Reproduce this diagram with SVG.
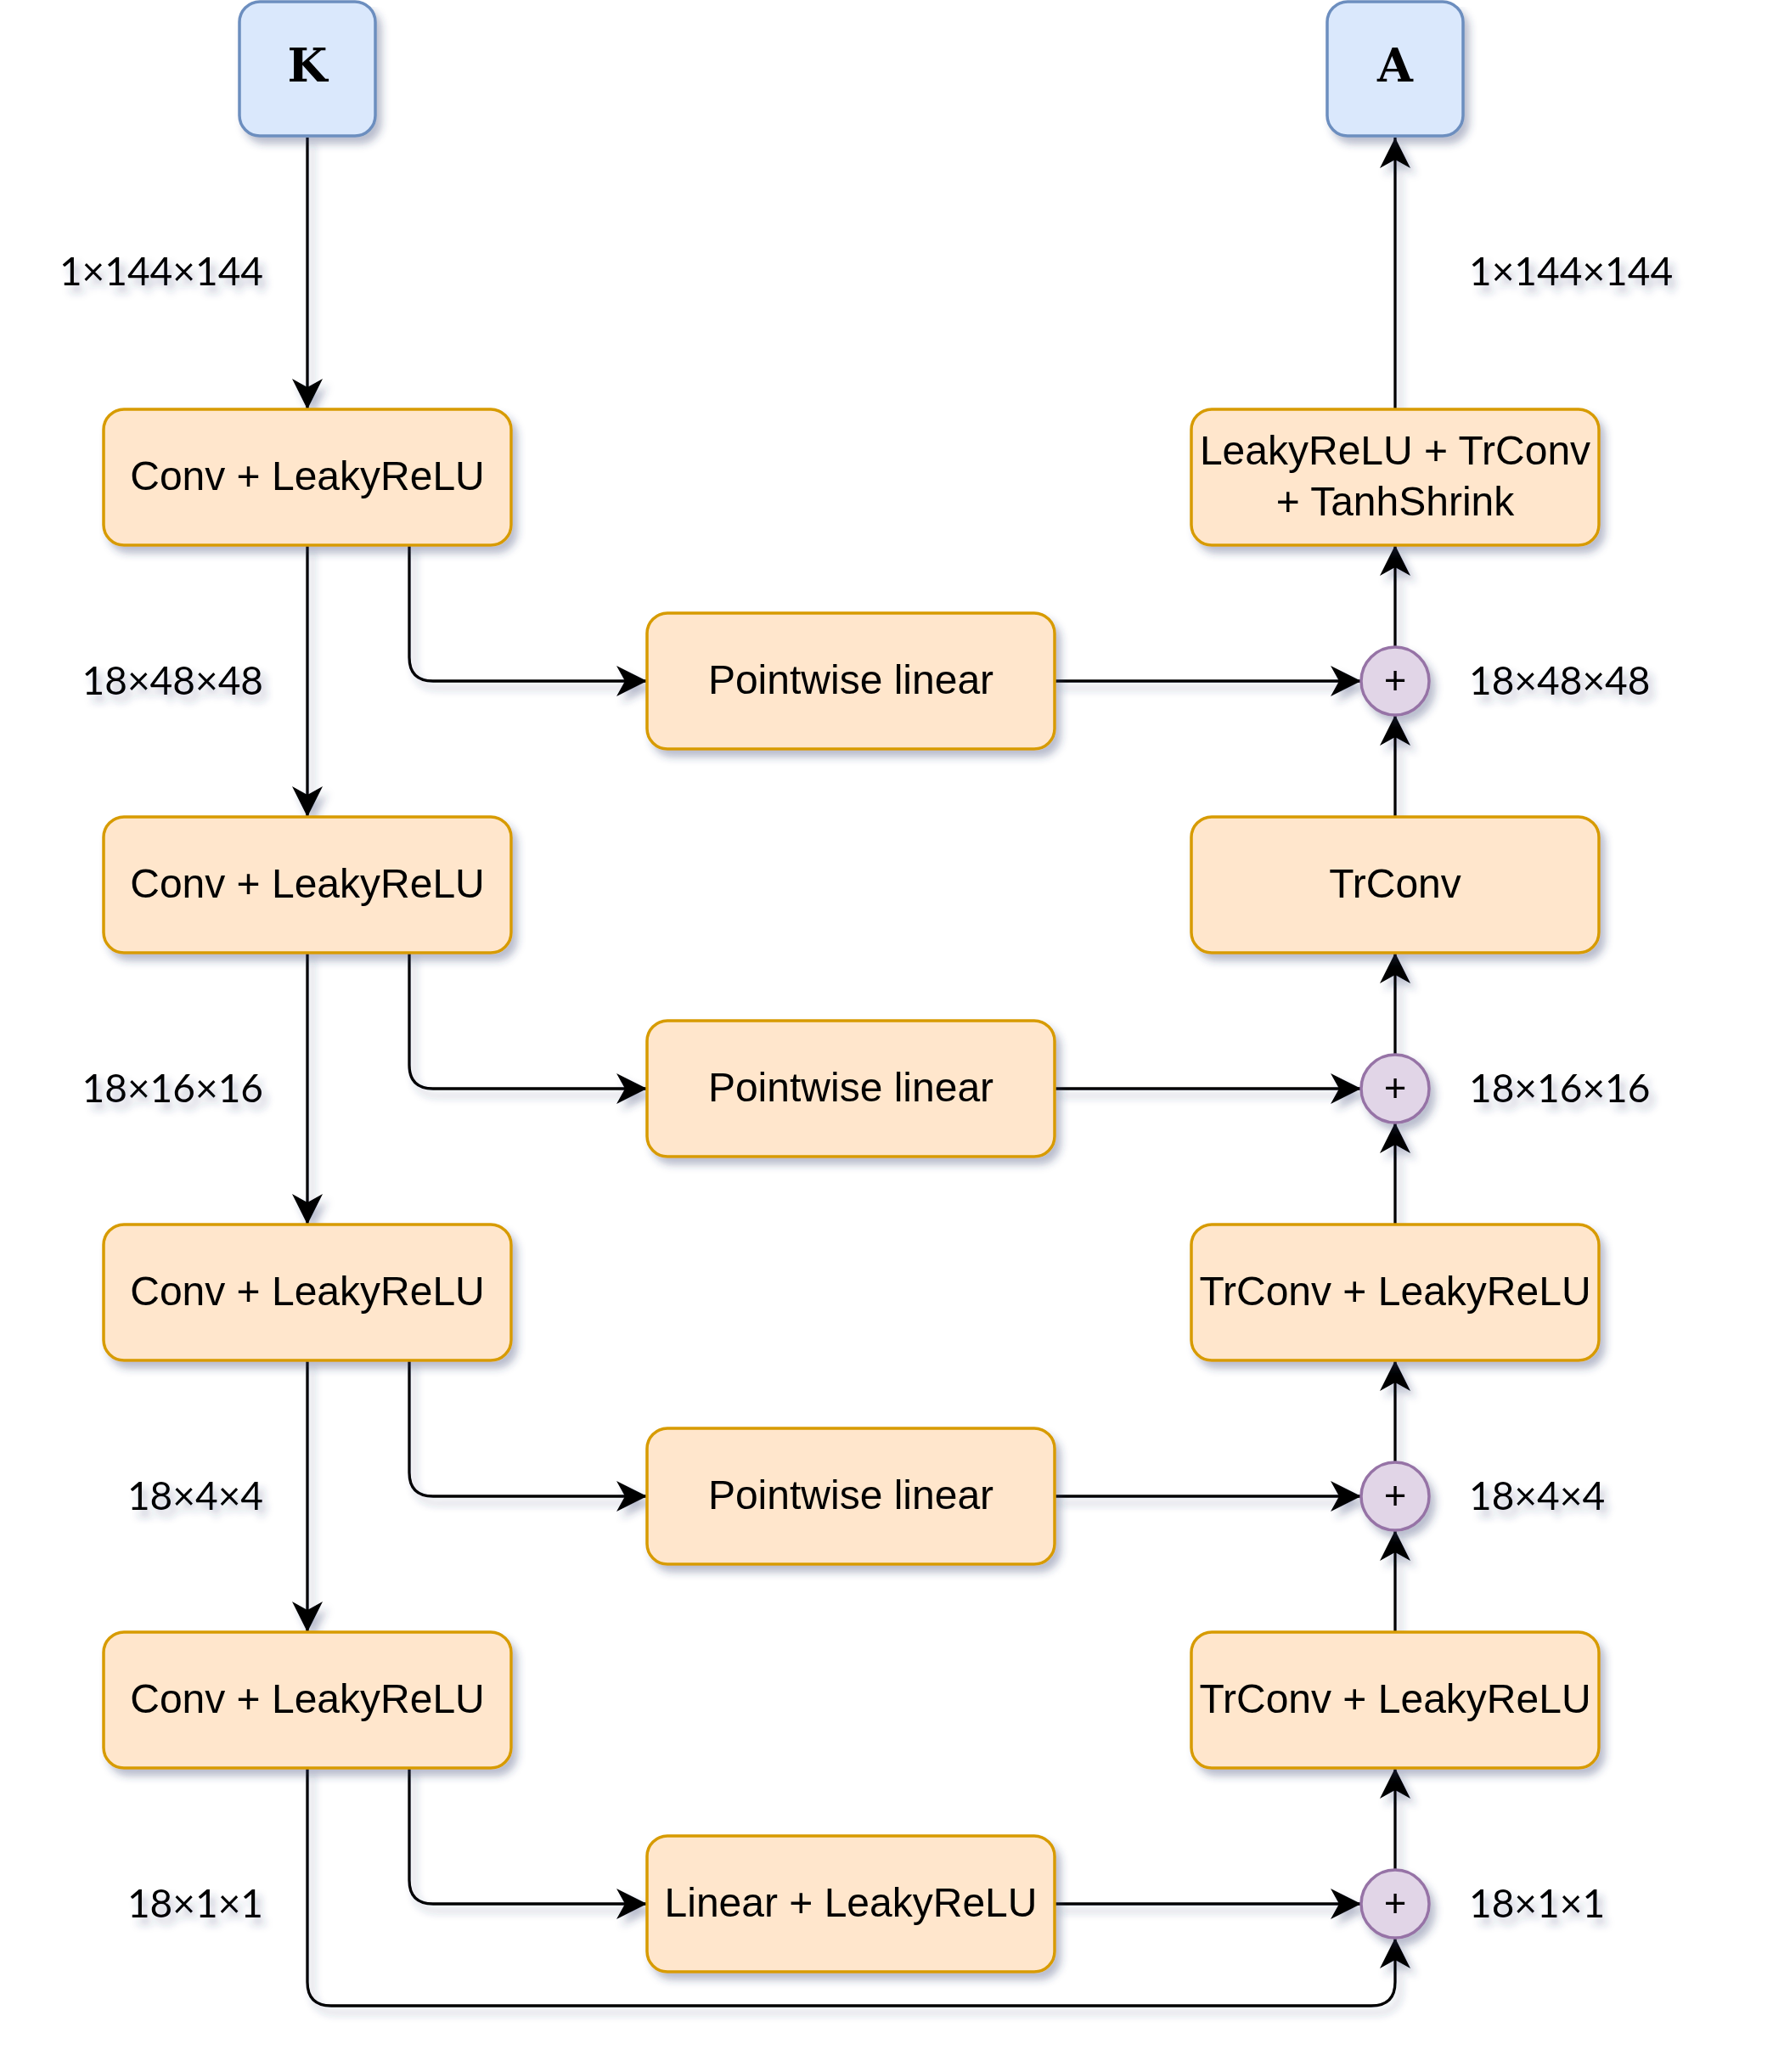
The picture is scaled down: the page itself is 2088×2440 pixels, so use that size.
<svg xmlns="http://www.w3.org/2000/svg" width="2088" height="2440" viewBox="0 0 2088 2440">
<defs>
<filter id="sh" filterUnits="userSpaceOnUse" x="0" y="0" width="2088" height="2440">
<feGaussianBlur in="SourceAlpha" stdDeviation="5"/>
<feOffset dx="6" dy="8" result="b"/>
<feFlood flood-color="#2e3b6b" flood-opacity="0.33"/>
<feComposite in2="b" operator="in"/>
<feMerge><feMergeNode/><feMergeNode in="SourceGraphic"/></feMerge>
</filter>
<marker id="arr" markerUnits="userSpaceOnUse" markerWidth="40" markerHeight="40" viewBox="-38 -20 40 40" refX="0" refY="0" orient="auto">
<path d="M0,0 L-36,-18 L-26,0 L-36,18 Z" fill="#000"/>
</marker>
</defs>
<style>
.box{fill:#ffe6cc;stroke:#d79b00;stroke-width:3.5}
.io{fill:#dae8fc;stroke:#6c8ebf;stroke-width:3.5}
.sum{fill:#e1d5e7;stroke:#9673a6;stroke-width:3.5}
.t{font-family:"Liberation Sans",Arial,sans-serif;font-size:48px;fill:#000;text-anchor:middle}
.io-t{font-family:"DejaVu Serif",serif;font-weight:bold;font-size:54px;fill:#000;text-anchor:middle}
.dim{font-family:Lato,"Open Sans",sans-serif;font-size:46px;fill:#000}
.plus{font-family:Lato,"Open Sans",sans-serif;font-size:46px;fill:#000;text-anchor:middle}
.c{fill:none;stroke:#000;stroke-width:3.3;marker-end:url(#arr)}
</style>
<rect width="2088" height="2440" fill="#fff"/>

<g id="connectors" filter="url(#sh)">
<path class="c" d="M362,162 L362,482"/>
<path class="c" d="M362,642 L362,962"/>
<path class="c" d="M362,1122 L362,1442"/>
<path class="c" d="M362,1602 L362,1922"/>
<path class="c" d="M482,642 L482,774 Q482,802 510,802 L762,802"/>
<path class="c" d="M482,1122 L482,1254 Q482,1282 510,1282 L762,1282"/>
<path class="c" d="M482,1602 L482,1734 Q482,1762 510,1762 L762,1762"/>
<path class="c" d="M482,2082 L482,2214 Q482,2242 510,2242 L762,2242"/>
<path class="c" d="M1242,802 L1603,802"/>
<path class="c" d="M1242,1282 L1603,1282"/>
<path class="c" d="M1242,1762 L1603,1762"/>
<path class="c" d="M1242,2242 L1603,2242"/>
<path class="c" d="M362,2082 L362,2334 Q362,2362 390,2362 L1615,2362 Q1643,2362 1643,2334 L1643,2282"/>
<path class="c" d="M1643,2202 L1643,2082"/>
<path class="c" d="M1643,1922 L1643,1802"/>
<path class="c" d="M1643,1722 L1643,1602"/>
<path class="c" d="M1643,1442 L1643,1322"/>
<path class="c" d="M1643,1242 L1643,1122"/>
<path class="c" d="M1643,962 L1643,842"/>
<path class="c" d="M1643,762 L1643,642"/>
<path class="c" d="M1643,482 L1643,162"/>
</g>

<g id="K" filter="url(#sh)">
<rect class="io" x="282" y="2" width="160" height="158" rx="24"/>
<text class="io-t" x="362" y="96">K</text>
</g>
<g id="A" filter="url(#sh)">
<rect class="io" x="1563" y="2" width="160" height="158" rx="24"/>
<text class="io-t" x="1643" y="96">A</text>
</g>

<g id="conv1" filter="url(#sh)"><rect class="box" x="122" y="482" width="480" height="160" rx="24"/><text class="t" x="362" y="577">Conv + LeakyReLU</text></g>
<g id="conv2" filter="url(#sh)"><rect class="box" x="122" y="962" width="480" height="160" rx="24"/><text class="t" x="362" y="1057">Conv + LeakyReLU</text></g>
<g id="conv3" filter="url(#sh)"><rect class="box" x="122" y="1442" width="480" height="160" rx="24"/><text class="t" x="362" y="1537">Conv + LeakyReLU</text></g>
<g id="conv4" filter="url(#sh)"><rect class="box" x="122" y="1922" width="480" height="160" rx="24"/><text class="t" x="362" y="2017">Conv + LeakyReLU</text></g>

<g id="pw1" filter="url(#sh)"><rect class="box" x="762" y="722" width="480" height="160" rx="24"/><text class="t" x="1002" y="817">Pointwise linear</text></g>
<g id="pw2" filter="url(#sh)"><rect class="box" x="762" y="1202" width="480" height="160" rx="24"/><text class="t" x="1002" y="1297">Pointwise linear</text></g>
<g id="pw3" filter="url(#sh)"><rect class="box" x="762" y="1682" width="480" height="160" rx="24"/><text class="t" x="1002" y="1777">Pointwise linear</text></g>
<g id="lin" filter="url(#sh)"><rect class="box" x="762" y="2162" width="480" height="160" rx="24"/><text class="t" x="1002" y="2257">Linear + LeakyReLU</text></g>

<g id="out" filter="url(#sh)"><rect class="box" x="1403" y="482" width="480" height="160" rx="24"/><text class="t" x="1643" y="547">LeakyReLU + TrConv</text><text class="t" x="1643" y="607">+ TanhShrink</text></g>
<g id="trconv" filter="url(#sh)"><rect class="box" x="1403" y="962" width="480" height="160" rx="24"/><text class="t" x="1643" y="1057">TrConv</text></g>
<g id="trconv2" filter="url(#sh)"><rect class="box" x="1403" y="1442" width="480" height="160" rx="24"/><text class="t" x="1643" y="1537">TrConv + LeakyReLU</text></g>
<g id="trconv3" filter="url(#sh)"><rect class="box" x="1403" y="1922" width="480" height="160" rx="24"/><text class="t" x="1643" y="2017">TrConv + LeakyReLU</text></g>

<g id="sum1" filter="url(#sh)"><circle class="sum" cx="1643" cy="802" r="40"/><text class="plus" x="1643" y="817">+</text></g>
<g id="sum2" filter="url(#sh)"><circle class="sum" cx="1643" cy="1282" r="40"/><text class="plus" x="1643" y="1297">+</text></g>
<g id="sum3" filter="url(#sh)"><circle class="sum" cx="1643" cy="1762" r="40"/><text class="plus" x="1643" y="1777">+</text></g>
<g id="sum4" filter="url(#sh)"><circle class="sum" cx="1643" cy="2242" r="40"/><text class="plus" x="1643" y="2257">+</text></g>

<g id="labels" filter="url(#sh)">
<text class="dim" x="310" y="336" text-anchor="end">1×144×144</text>
<text class="dim" x="310" y="818" text-anchor="end">18×48×48</text>
<text class="dim" x="310" y="1298" text-anchor="end">18×16×16</text>
<text class="dim" x="310" y="1778" text-anchor="end">18×4×4</text>
<text class="dim" x="310" y="2258" text-anchor="end">18×1×1</text>
<text class="dim" x="1730" y="336">1×144×144</text>
<text class="dim" x="1730" y="818">18×48×48</text>
<text class="dim" x="1730" y="1298">18×16×16</text>
<text class="dim" x="1730" y="1778">18×4×4</text>
<text class="dim" x="1730" y="2258">18×1×1</text>
</g>
</svg>
